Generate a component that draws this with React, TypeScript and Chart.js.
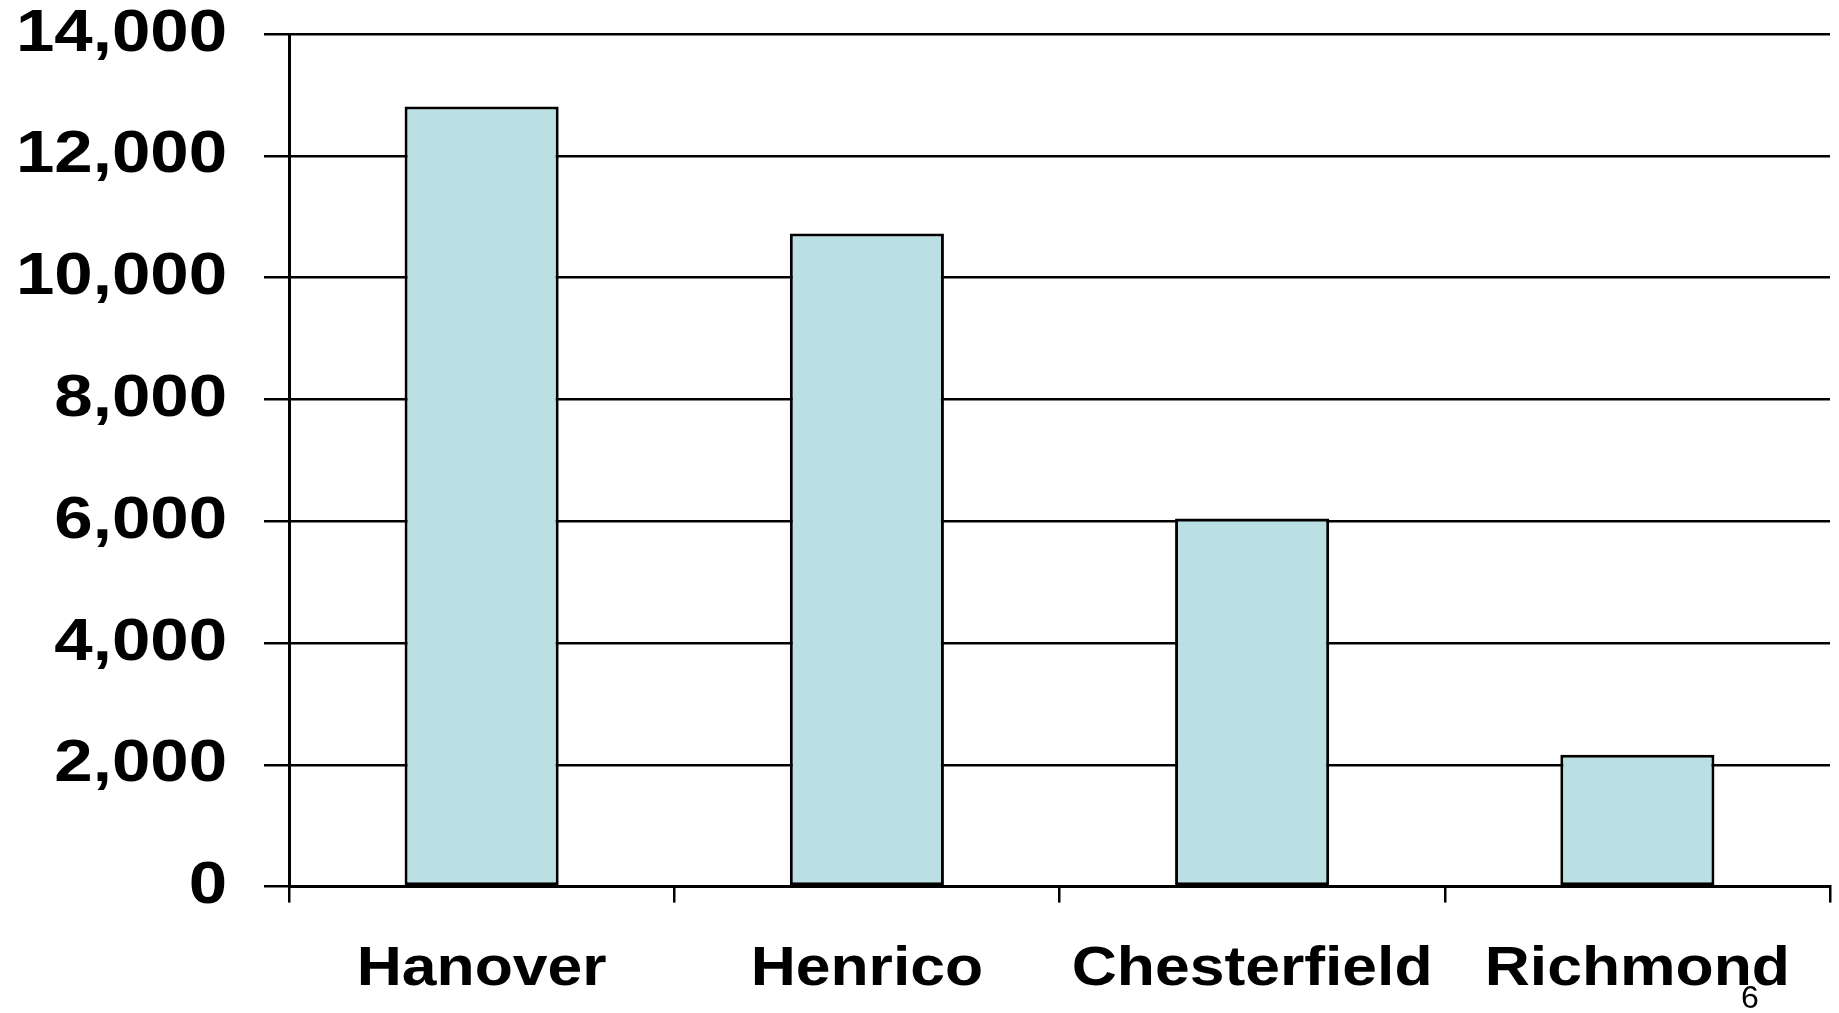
import React, { useEffect, useRef } from 'react';
import { Chart, registerables } from 'chart.js';

Chart.register(...registerables);

// Totals by locality
const counties = ['Hanover', 'Henrico', 'Chesterfield', 'Richmond'];
const totals = [12810, 10725, 6045, 2165];

// Value axis ticks
const yTicks = [0, 2000, 4000, 6000, 8000, 10000, 12000, 14000];

// Slide page number shown in the lower right corner
const pageNumber = '6';

const BAR_FILL = '#BBE0E3';
const INK = '#000000';
const LABEL_FONT = '"Liberation Sans", Arial, Helvetica, sans-serif';

// Bold axis labels are drawn slightly wide, like the original slide typeface
const Y_LABEL_SIZE = 60;
const Y_LABEL_STRETCH = 1.15;
const X_LABEL_SIZE = 56;
const X_LABEL_STRETCH = 1.115;

const axisLabelsPlugin = {
  id: 'axisLabels',
  afterDraw(chart: any) {
    const ctx = chart.ctx;
    const xs = chart.scales.x;
    const ys = chart.scales.y;
    const area = chart.chartArea;
    ctx.save();
    ctx.fillStyle = INK;

    ctx.font = `bold ${Y_LABEL_SIZE}px ${LABEL_FONT}`;
    ctx.textAlign = 'right';
    ctx.textBaseline = 'middle';
    yTicks.forEach((v) => {
      const py = ys.getPixelForValue(v);
      ctx.save();
      ctx.translate(area.left - 62, py);
      ctx.scale(Y_LABEL_STRETCH, 1);
      ctx.fillText(v.toLocaleString('en-US'), 0, 0);
      ctx.restore();
    });

    ctx.font = `bold ${X_LABEL_SIZE}px ${LABEL_FONT}`;
    ctx.textAlign = 'center';
    ctx.textBaseline = 'alphabetic';
    counties.forEach((name, i) => {
      const px = xs.getPixelForTick(i);
      ctx.save();
      ctx.translate(px, area.bottom + 98.5);
      ctx.scale(X_LABEL_STRETCH, 1);
      ctx.fillText(name, 0, 0);
      ctx.restore();
    });

    ctx.restore();
  },
};

const pageNumberPlugin = {
  id: 'pageNumber',
  afterDraw(chart: any) {
    const ctx = chart.ctx;
    ctx.save();
    ctx.font = `32px ${LABEL_FONT}`;
    ctx.fillStyle = INK;
    ctx.textAlign = 'center';
    ctx.textBaseline = 'alphabetic';
    ctx.fillText(pageNumber, chart.width - 89, chart.height - 5);
    ctx.restore();
  },
};

export default function App() {
  const canvasRef = useRef<HTMLCanvasElement | null>(null);

  useEffect(() => {
    document.body.style.margin = '0';
    const canvas = canvasRef.current;
    if (!canvas) return;

    const chart = new Chart(canvas, {
      type: 'bar',
      data: {
        labels: counties,
        datasets: [
          {
            data: totals,
            backgroundColor: BAR_FILL,
            borderColor: INK,
            borderWidth: 3,
            borderSkipped: false,
            categoryPercentage: 0.8,
            barPercentage: 0.5,
          },
        ],
      },
      options: {
        responsive: false,
        animation: false,
        maintainAspectRatio: false,
        layout: { padding: { left: 0, right: 9, top: 34, bottom: 0 } },
        plugins: {
          legend: { display: false },
          tooltip: { enabled: false },
          title: { display: false },
        },
        scales: {
          x: {
            type: 'category',
            offset: true,
            grid: {
              display: true,
              offset: true,
              drawOnChartArea: false,
              drawTicks: true,
              tickLength: 16,
              color: INK,
              lineWidth: 2.5,
            },
            border: { display: true, color: INK, width: 3 },
            ticks: { display: false },
            afterFit(scale: any) {
              scale.height = 126.4;
            },
          },
          y: {
            min: yTicks[0],
            max: yTicks[yTicks.length - 1],
            afterBuildTicks(scale: any) {
              scale.ticks = yTicks.map((v) => ({ value: v }));
            },
            grid: {
              display: true,
              drawOnChartArea: true,
              drawTicks: true,
              tickLength: 25,
              color: INK,
              lineWidth: 2.5,
            },
            border: { display: true, color: INK, width: 3 },
            ticks: { display: false },
            afterFit(scale: any) {
              scale.width = 289;
            },
          },
        },
      },
      plugins: [axisLabelsPlugin, pageNumberPlugin],
    });

    return () => chart.destroy();
  }, []);

  return (
    <div style={{ position: 'fixed', left: 0, top: 0, width: 1839, height: 1013, background: '#ffffff' }}>
      <canvas ref={canvasRef} width={1839} height={1013} style={{ display: 'block' }} />
    </div>
  );
}
